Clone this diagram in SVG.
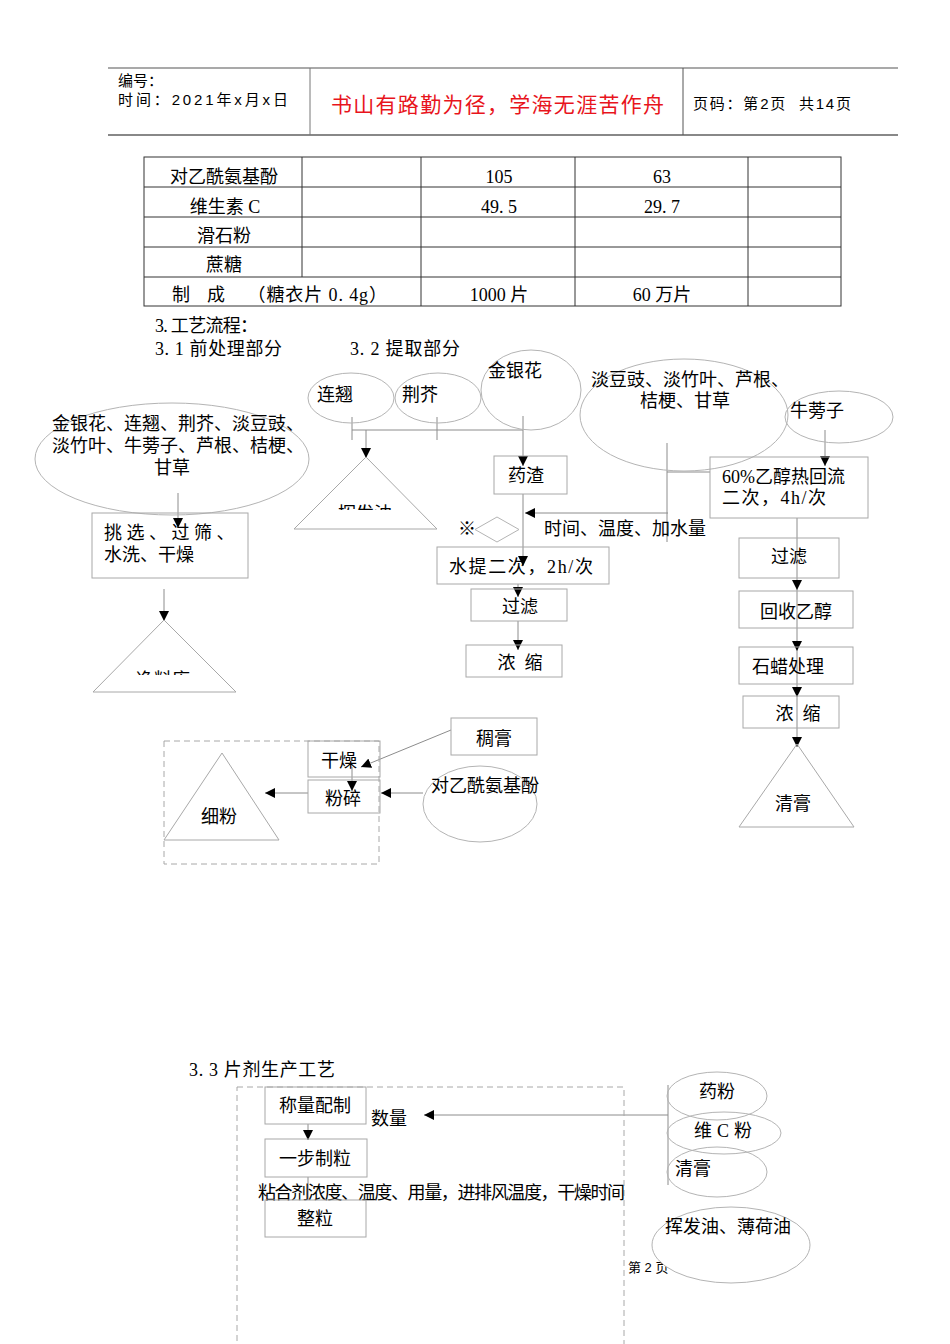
<svg xmlns="http://www.w3.org/2000/svg" width="950" height="1344" viewBox="0 0 950 1344">
<style>
.t{font-family:"Liberation Serif","Noto Sans CJK SC",serif;font-size:18px;fill:#000}
.h{font-family:"Liberation Sans","Noto Sans CJK SC",sans-serif;font-size:15px;fill:#000}
.box{fill:none;stroke:#a8a8a8;stroke-width:1}
.ell{fill:none;stroke:#b4b4b4;stroke-width:1}
.ln{fill:none;stroke:#8c8c8c;stroke-width:1}
.dash{fill:none;stroke:#a8a8a8;stroke-width:1;stroke-dasharray:6,4}
.tb{stroke:#333;stroke-width:1;fill:none}
</style>
<defs>
<marker id="ar" viewBox="0 0 10 10" refX="10" refY="5" markerWidth="10" markerHeight="10" markerUnits="userSpaceOnUse" orient="auto">
<path d="M0,0 L10,5 L0,10 z" fill="#000"/>
</marker>
<clipPath id="c1"><rect x="80" y="600" width="170" height="75"/></clipPath>
<clipPath id="c2"><rect x="290" y="440" width="160" height="70"/></clipPath>
</defs>
<rect width="950" height="1344" fill="#fff"/>

<g id="header">
<line x1="108" y1="68" x2="898" y2="68" stroke="#555" stroke-width="1.2"/>
<line x1="108" y1="135" x2="898" y2="135" stroke="#888" stroke-width="2"/>
<line x1="310" y1="68" x2="310" y2="135" stroke="#777"/>
<line x1="683" y1="68" x2="683" y2="135" stroke="#555"/>
<text class="h" x="118" y="86">编号：</text>
<text class="h" x="118" y="105" textLength="170">时间：2021年x月x日</text>
<text x="331" y="112" style="font-family:'Liberation Sans','Noto Sans CJK SC',sans-serif;font-size:21px;fill:#e8141c" textLength="333">书山有路勤为径，学海无涯苦作舟</text>
<text class="h" x="693" y="109" textLength="158" xml:space="preserve">页码：第2页  共14页</text>
</g>

<g id="table">
<rect class="tb" x="144" y="157" width="697" height="149"/>
<line class="tb" x1="144" y1="187" x2="841" y2="187"/>
<line class="tb" x1="144" y1="217" x2="841" y2="217"/>
<line class="tb" x1="144" y1="247" x2="841" y2="247"/>
<line class="tb" x1="144" y1="277" x2="841" y2="277"/>
<line class="tb" x1="302" y1="157" x2="302" y2="277"/>
<line class="tb" x1="421" y1="157" x2="421" y2="306"/>
<line class="tb" x1="575" y1="157" x2="575" y2="306"/>
<line class="tb" x1="748" y1="157" x2="748" y2="306"/>
<text class="t" x="224" y="183" text-anchor="middle" font-size="17">对乙酰氨基酚</text>
<text class="t" x="499" y="183" text-anchor="middle" font-size="17">105</text>
<text class="t" x="662" y="183" text-anchor="middle" font-size="17">63</text>
<text class="t" x="225" y="213" text-anchor="middle" font-size="17">维生素 C</text>
<text class="t" x="499" y="213" text-anchor="middle" font-size="17">49. 5</text>
<text class="t" x="662" y="213" text-anchor="middle" font-size="17">29. 7</text>
<text class="t" x="224" y="242" text-anchor="middle" font-size="17">滑石粉</text>
<text class="t" x="224" y="271" text-anchor="middle" font-size="17">蔗糖</text>
<text class="t" x="172" y="301" font-size="17" textLength="215" xml:space="preserve">制   成    （糖衣片 0. 4g）</text>
<text class="t" x="499" y="301" text-anchor="middle" font-size="17">1000 片</text>
<text class="t" x="662" y="301" text-anchor="middle" font-size="17">60 万片</text>
</g>

<g id="titles">
<text class="t" x="155" y="332" font-size="17" textLength="103">3. 工艺流程：</text>
<text class="t" x="155" y="355" font-size="17" textLength="127">3. 1 前处理部分</text>
<text class="t" x="350" y="355" font-size="17" textLength="110">3. 2 提取部分</text>
</g>

<g id="connectors">
<line class="ln" x1="178" y1="493" x2="178" y2="528" marker-end="url(#ar)"/>
<line class="ln" x1="164" y1="589" x2="164" y2="621" marker-end="url(#ar)"/>
<line class="ln" x1="352" y1="430" x2="523" y2="430"/>
<line class="ln" x1="352" y1="417" x2="352" y2="440"/>
<line class="ln" x1="437" y1="417" x2="437" y2="440"/>
<line class="ln" x1="366" y1="430" x2="366" y2="458" marker-end="url(#ar)"/>
<line class="ln" x1="523" y1="416" x2="523" y2="466" marker-end="url(#ar)"/>
<line class="ln" x1="523" y1="494" x2="523" y2="566" marker-end="url(#ar)"/>
<line class="ln" x1="668" y1="513" x2="525" y2="513" marker-end="url(#ar)"/>
<line class="ln" x1="667" y1="443" x2="667" y2="542"/>
<line class="ln" x1="667" y1="472" x2="710" y2="472"/>
<line class="ln" x1="518" y1="584" x2="518" y2="597" marker-end="url(#ar)"/>
<line class="ln" x1="518" y1="621" x2="518" y2="650" marker-end="url(#ar)"/>
<line class="ln" x1="825" y1="430" x2="825" y2="466" marker-end="url(#ar)"/>
<line class="ln" x1="797" y1="518" x2="797" y2="590" marker-end="url(#ar)"/>
<line class="ln" x1="797" y1="590" x2="797" y2="651" marker-end="url(#ar)"/>
<line class="ln" x1="797" y1="651" x2="797" y2="697" marker-end="url(#ar)"/>
<line class="ln" x1="797" y1="697" x2="797" y2="747" marker-end="url(#ar)"/>
<line class="ln" x1="451" y1="730" x2="361" y2="767" marker-end="url(#ar)"/>
<line class="ln" x1="352" y1="767" x2="352" y2="791" marker-end="url(#ar)"/>
<line class="ln" x1="423" y1="793" x2="381" y2="793" marker-end="url(#ar)"/>
<line class="ln" x1="308" y1="793" x2="265" y2="793" marker-end="url(#ar)"/>
<line class="ln" x1="308" y1="1124" x2="308" y2="1140" marker-end="url(#ar)"/>
<line class="ln" x1="308" y1="1177" x2="308" y2="1200"/>
<line class="ln" x1="668" y1="1115" x2="424" y2="1115" marker-end="url(#ar)"/>
<line class="ln" x1="668" y1="1085" x2="668" y2="1185"/>
</g>

<g id="n-raw">
<ellipse class="ell" cx="172" cy="459" rx="137" ry="56"/>
<text class="t" x="178" y="430" text-anchor="middle">金银花、连翘、荆芥、淡豆豉、</text>
<text class="t" x="178" y="452" text-anchor="middle">淡竹叶、牛蒡子、芦根、桔梗、</text>
<text class="t" x="172" y="474" text-anchor="middle">甘草</text>
</g>
<g id="n-pick">
<rect class="box" x="92" y="513" width="156" height="65"/>
<text class="t" x="104" y="539" xml:space="preserve">挑 选 、 过 筛 、</text>
<text class="t" x="104" y="561">水洗、干燥</text>
</g>
<g id="n-store">
<polygon class="box" points="164,620 236,692 93,692"/>
<text class="t" x="163" y="686" text-anchor="middle" clip-path="url(#c1)">净料库</text>
</g>

<g id="n-lq"><ellipse class="ell" cx="351" cy="398" rx="43" ry="25"/><text class="t" x="317" y="401">连翘</text></g>
<g id="n-jj"><ellipse class="ell" cx="438" cy="398" rx="43" ry="25"/><text class="t" x="402" y="401">荆芥</text></g>
<g id="n-jyh"><ellipse class="ell" cx="531" cy="390" rx="50" ry="40"/><text class="t" x="488" y="377">金银花</text></g>
<g id="n-oil">
<polygon class="box" points="366,457 437,529 294,529"/>
<text class="t" x="365" y="520" text-anchor="middle" clip-path="url(#c2)">挥发油</text>
</g>
<g id="n-zha"><rect class="box" x="494" y="456" width="73" height="38"/><text class="t" x="526" y="482" text-anchor="middle">药渣</text></g>
<g id="n-dia">
<polygon class="ell" points="497,517 519,529.5 497,542 475,529.5"/>
<text class="t" x="458" y="535" font-size="17">※</text>
</g>
<text class="t" x="544" y="535">时间、温度、加水量</text>
<g id="n-water"><rect class="box" x="437" y="547" width="172" height="37"/><text class="t" x="449" y="573" textLength="144">水提二次，2h/次</text></g>
<g id="n-filt1"><rect class="box" x="471" y="589" width="96" height="32"/><text class="t" x="520" y="613" text-anchor="middle">过滤</text></g>
<g id="n-conc1"><rect class="box" x="466" y="645" width="96" height="32"/><text class="t" x="520" y="669" text-anchor="middle" xml:space="preserve">浓  缩</text></g>

<g id="n-ddc">
<ellipse class="ell" cx="684" cy="415" rx="104" ry="56"/>
<text class="t" x="591" y="386">淡豆豉、淡竹叶、芦根、</text>
<text class="t" x="685" y="407" text-anchor="middle">桔梗、甘草</text>
</g>
<g id="n-nbz"><ellipse class="ell" cx="839" cy="417" rx="54" ry="26"/><text class="t" x="790" y="417">牛蒡子</text></g>
<g id="n-reflux">
<rect class="box" x="710" y="457" width="158" height="61"/>
<text class="t" x="722" y="483">60%乙醇热回流</text>
<text class="t" x="722" y="504" textLength="104">二次，4h/次</text>
</g>
<g id="n-filt2"><rect class="box" x="739" y="538" width="100" height="40"/><text class="t" x="789" y="563" text-anchor="middle">过滤</text></g>
<g id="n-rec"><rect class="box" x="739" y="591" width="114" height="37"/><text class="t" x="760" y="618">回收乙醇</text></g>
<g id="n-wax"><rect class="box" x="739" y="647" width="114" height="37"/><text class="t" x="752" y="673">石蜡处理</text></g>
<g id="n-conc2"><rect class="box" x="743" y="696" width="96" height="32"/><text class="t" x="798" y="720" text-anchor="middle" xml:space="preserve">浓  缩</text></g>
<g id="n-qg"><polygon class="box" points="797,744 854,827 739,827"/><text class="t" x="793" y="810" text-anchor="middle">清膏</text></g>

<g id="n-frame1"><rect class="dash" x="164" y="741" width="215" height="123"/></g>
<g id="n-dry"><rect class="box" x="308" y="741" width="72" height="36"/><text class="t" x="339" y="767" text-anchor="middle">干燥</text></g>
<g id="n-crush"><rect class="box" x="308" y="780" width="72" height="33"/><text class="t" x="343" y="805" text-anchor="middle">粉碎</text></g>
<g id="n-cg"><rect class="box" x="451" y="718" width="86" height="37"/><text class="t" x="494" y="745" text-anchor="middle">稠膏</text></g>
<g id="n-apap"><ellipse class="ell" cx="480" cy="804" rx="57" ry="38"/><text class="t" x="431" y="792" font-size="16">对乙酰氨基酚</text></g>
<g id="n-fine"><polygon class="box" points="222,753 279,840 164,840"/><text class="t" x="219" y="823" text-anchor="middle">细粉</text></g>

<text class="t" x="189" y="1076" font-size="17" textLength="146">3. 3 片剂生产工艺</text>
<g id="n-frame2"><rect class="dash" x="237" y="1087" width="387" height="270"/></g>
<g id="n-weigh"><rect class="box" x="265" y="1087" width="101" height="37"/><text class="t" x="315" y="1112" text-anchor="middle">称量配制</text></g>
<text class="t" x="371" y="1125" font-size="16">数量</text>
<g id="n-gran"><rect class="box" x="265" y="1139" width="102" height="38"/><text class="t" x="315" y="1165" text-anchor="middle">一步制粒</text></g>
<text class="t" x="258" y="1199" font-size="16.5" textLength="367">粘合剂浓度、温度、用量，进排风温度，干燥时间</text>
<g id="n-size"><rect class="box" x="265" y="1200" width="101" height="37"/><text class="t" x="315" y="1225" text-anchor="middle">整粒</text></g>

<g id="n-yf"><ellipse class="ell" cx="717" cy="1096" rx="50" ry="24"/><text class="t" x="717" y="1098" text-anchor="middle">药粉</text></g>
<g id="n-vc"><ellipse class="ell" cx="724" cy="1133" rx="57" ry="21"/><text class="t" x="694" y="1137" textLength="58">维 C 粉</text></g>
<g id="n-qg2"><ellipse class="ell" cx="717" cy="1172" rx="50" ry="25"/><text class="t" x="675" y="1175">清膏</text></g>
<text x="628" y="1272" style="font-family:'Liberation Sans','Noto Sans CJK SC',sans-serif;font-size:13px" xml:space="preserve">第 2 页</text>
<g id="n-oils"><ellipse cx="731" cy="1245" rx="79" ry="38" fill="#fff" stroke="#b4b4b4"/><text class="t" x="665" y="1233">挥发油、薄荷油</text></g>
</svg>
